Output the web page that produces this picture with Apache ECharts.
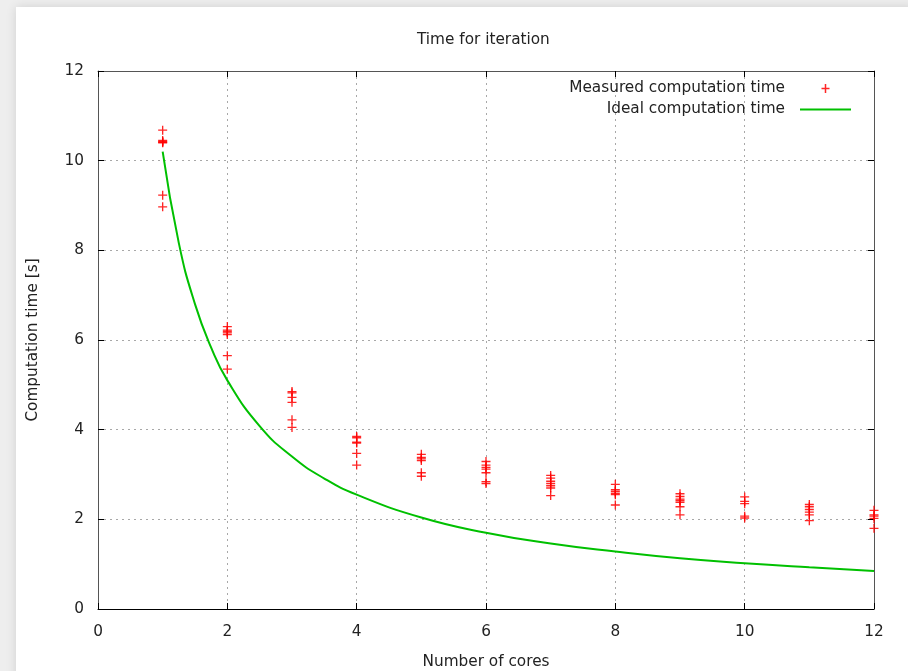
<!DOCTYPE html>
<html>
<head>
<meta charset="utf-8">
<script src="https://cdn.jsdelivr.net/npm/echarts@6/dist/echarts.min.js"></script>
<style>
  html, body { margin: 0; padding: 0; width: 908px; height: 671px; overflow: hidden; background: #eeeeee; }
  #sheet { position: absolute; left: 16px; top: 7px; width: 900px; height: 680px; background: #ffffff; box-shadow: 0 0 10px rgba(0,0,0,0.12); }
  #chart { position: absolute; left: 0; top: 0; width: 908px; height: 671px; }
</style>
</head>
<body>
<div id="sheet"></div>
<div id="chart"></div>
<script>
// ---- data ----
const titleText = 'Time for iteration';
const xAxisName = 'Number of cores';
const yAxisName = 'Computation time [s]';
const measuredName = 'Measured computation time';
const idealName = 'Ideal computation time';

const cores = [1, 2, 3, 4, 5, 6, 7, 8, 9, 10, 11, 12];
const measuredTimes = [
  [10.68, 10.45, 10.43, 10.41, 10.40, 9.23, 8.97],
  [6.30, 6.22, 6.19, 6.16, 6.12, 5.65, 5.35],
  [4.85, 4.82, 4.72, 4.61, 4.22, 4.05],
  [3.85, 3.82, 3.72, 3.70, 3.47, 3.21],
  [3.45, 3.38, 3.35, 3.31, 3.04, 2.96],
  [3.29, 3.21, 3.16, 3.12, 3.04, 2.84, 2.80],
  [2.98, 2.92, 2.85, 2.80, 2.75, 2.70, 2.53],
  [2.78, 2.66, 2.62, 2.58, 2.55, 2.32],
  [2.57, 2.51, 2.45, 2.42, 2.38, 2.28, 2.10],
  [2.50, 2.40, 2.35, 2.07, 2.03],
  [2.33, 2.28, 2.22, 2.16, 2.10, 1.97],
  [2.20, 2.10, 2.07, 2.02, 1.80]
];
const idealX = [1, 1.25, 1.5, 1.75, 2, 2.5, 3, 3.5, 4, 5, 6, 7, 8, 9, 10, 11, 12];
const idealY = [10.2, 8.16, 6.8, 5.83, 5.1, 4.08, 3.4, 2.91, 2.55, 2.04, 1.7, 1.46, 1.28, 1.13, 1.02, 0.93, 0.85];
const axisTicks = [0, 2, 4, 6, 8, 10, 12];

// ---- build series data ----
const measuredPoints = [];
cores.forEach((c, i) => measuredTimes[i].forEach(v => measuredPoints.push([c, v])));
const idealPoints = idealX.map((x, i) => [x, idealY[i]]);

const plusPath = 'path://M4.25,0 L5.75,0 L5.75,4.25 L10,4.25 L10,5.75 L5.75,5.75 L5.75,10 L4.25,10 L4.25,5.75 L0,5.75 L0,4.25 L4.25,4.25 Z';
// legend key: same plus, centred in a 51-wide key box (tiny anchors mark the box ends)
const plusKeyPath = 'path://M0,4.5 L0.02,4.5 L0.02,4.52 Z M51,4.5 L50.98,4.5 L50.98,4.52 Z ' +
  'M24.75,0.5 L26.25,0.5 L26.25,3.75 L29.5,3.75 L29.5,5.25 L26.25,5.25 L26.25,8.5 L24.75,8.5 L24.75,5.25 L21.5,5.25 L21.5,3.75 L24.75,3.75 Z';
const FONT = '"DejaVu Sans", sans-serif';
const FS = 15.3;
const textColor = '#222222';

const chart = echarts.init(document.getElementById('chart'), null, { renderer: 'canvas' });

const gridLine = { show: true, lineStyle: { color: '#a8a8a8', width: 1, type: [2, 4] } };
const tickMin = axisTicks[0], tickMax = axisTicks[axisTicks.length - 1], tickStep = axisTicks[1] - axisTicks[0];

chart.setOption({
  backgroundColor: 'transparent',
  animation: false,
  textStyle: { fontFamily: FONT },
  title: {
    text: titleText, left: 412, top: 28,
    textStyle: { fontFamily: FONT, fontSize: FS, fontWeight: 'normal', color: textColor }
  },
  legend: [
    {
      data: [{ name: measuredName, icon: plusKeyPath }],
      right: 57, top: 81, align: 'right', orient: 'vertical', padding: 0,
      itemWidth: 51, itemHeight: 9, symbolKeepAspect: false, selectedMode: false,
      textStyle: { fontFamily: FONT, fontSize: FS, color: textColor, padding: [0, 10, 0, 0] }
    },
    {
      data: [{ name: idealName, icon: 'rect' }],
      right: 57, top: 102, align: 'right', orient: 'vertical', padding: 0,
      itemWidth: 51, itemHeight: 2, selectedMode: false,
      textStyle: { fontFamily: FONT, fontSize: FS, color: textColor, padding: [0, 10, 0, 0] }
    }
  ],
  grid: { left: 98, right: 34, top: 71, bottom: 62, containLabel: false, outerBoundsMode: 'none' },
  xAxis: [
    {
      type: 'value', min: tickMin, max: tickMax, interval: tickStep, position: 'bottom',
      name: xAxisName, nameLocation: 'middle', nameGap: 46,
      nameTextStyle: { fontFamily: FONT, fontSize: FS, color: textColor },
      axisLine: { show: true, onZero: false, lineStyle: { color: '#000000', width: 1 } },
      axisTick: { show: true, inside: true, length: 6, lineStyle: { color: '#000000' } },
      axisLabel: { margin: 16, fontFamily: FONT, fontSize: FS, color: textColor },
      splitLine: gridLine
    },
    {
      type: 'value', min: tickMin, max: tickMax, interval: tickStep, position: 'top',
      axisLine: { show: true, onZero: false, lineStyle: { color: '#555555', width: 1 } },
      axisTick: { show: true, inside: true, length: 6, lineStyle: { color: '#000000' } },
      axisLabel: { show: false }, splitLine: { show: false }
    }
  ],
  yAxis: [
    {
      type: 'value', min: tickMin, max: tickMax, interval: tickStep, position: 'left',
      name: yAxisName, nameLocation: 'middle', nameGap: 57,
      nameTextStyle: { fontFamily: FONT, fontSize: FS, color: textColor },
      axisLine: { show: true, onZero: false, lineStyle: { color: '#555555', width: 1 } },
      axisTick: { show: true, inside: true, length: 6, lineStyle: { color: '#000000' } },
      axisLabel: { margin: 14, fontFamily: FONT, fontSize: FS, color: textColor },
      splitLine: gridLine
    },
    {
      type: 'value', min: tickMin, max: tickMax, interval: tickStep, position: 'right',
      axisLine: { show: true, onZero: false, lineStyle: { color: '#555555', width: 1 } },
      axisTick: { show: true, inside: true, length: 6, lineStyle: { color: '#000000' } },
      axisLabel: { show: false }, splitLine: { show: false }
    }
  ],
  series: [
    {
      name: measuredName, type: 'scatter', xAxisIndex: 0, yAxisIndex: 0,
      symbol: plusPath, symbolSize: 9,
      itemStyle: { color: '#ff0000', opacity: 0.85 },
      data: measuredPoints, z: 3
    },
    {
      name: idealName, type: 'line', xAxisIndex: 0, yAxisIndex: 0,
      smooth: 0.5, showSymbol: false, symbol: 'none',
      lineStyle: { color: '#00c000', width: 2 },
      itemStyle: { color: '#00c000' },
      data: idealPoints, z: 2
    }
  ]
});
</script>
</body>
</html>
